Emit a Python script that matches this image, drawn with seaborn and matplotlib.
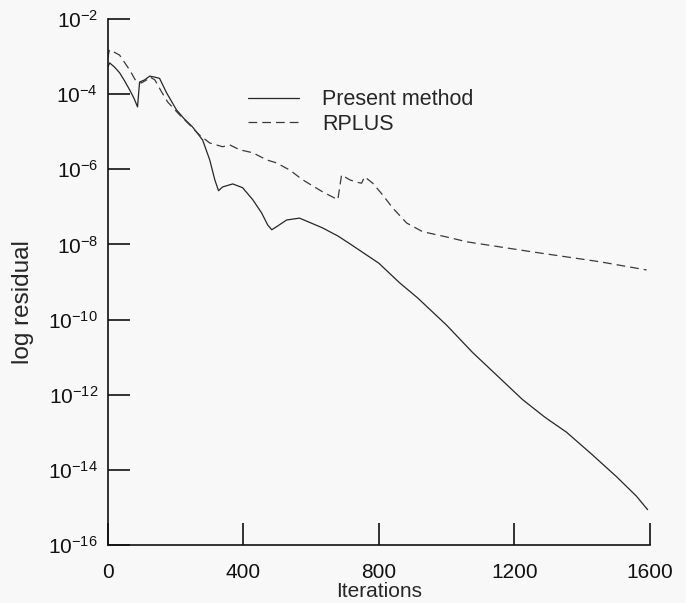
import numpy as np
import pandas as pd
import matplotlib
matplotlib.use('Agg')
import matplotlib.pyplot as plt
import seaborn as sns
from matplotlib.ticker import NullLocator, FixedLocator

# valores (log10 do residuo)
it_present = [0, 6, 20, 35, 50, 65, 78, 88, 94, 109, 124, 140, 153, 174, 203, 225, 250,
              280, 301, 316, 327, 339, 369, 398, 428, 454, 472, 484, 498, 528, 566, 634,
              680, 714, 800, 861, 914, 1000, 1077, 1150, 1224, 1290, 1354, 1430, 1501,
              1560, 1593]
log_present = [-3.28, -3.17, -3.28, -3.43, -3.65, -3.89, -4.12, -4.34, -3.68, -3.62, -3.52,
               -3.55, -3.58, -3.97, -4.42, -4.65, -4.87, -5.22, -5.75, -6.28, -6.57, -6.47,
               -6.39, -6.49, -6.81, -7.16, -7.48, -7.61, -7.53, -7.35, -7.30, -7.56, -7.78,
               -7.98, -8.50, -9.02, -9.42, -10.15, -10.88, -11.50, -12.13, -12.60, -13.00,
               -13.60, -14.18, -14.70, -15.06]

it_rplus = [0, 5, 12, 35, 65, 85, 100, 115, 124, 139, 159, 177, 212, 242, 271, 301, 339,
            360, 389, 428, 469, 498, 537, 575, 634, 679, 690, 714, 733, 749, 758, 782, 811,
            841, 882, 929, 1009, 1059, 1254, 1451, 1590]
log_rplus = [-3.05, -2.82, -2.85, -2.96, -3.36, -3.68, -3.70, -3.62, -3.54, -3.62, -3.94,
             -4.21, -4.55, -4.82, -5.09, -5.30, -5.40, -5.35, -5.48, -5.56, -5.75, -5.83,
             -6.02, -6.28, -6.60, -6.81, -6.15, -6.28, -6.34, -6.37, -6.20, -6.37, -6.68,
             -7.03, -7.43, -7.66, -7.82, -7.93, -8.20, -8.46, -8.68]

x_ticks = [0, 400, 800, 1200, 1600]
y_ticks = [1e-16, 1e-14, 1e-12, 1e-10, 1e-8, 1e-6, 1e-4, 1e-2]

df = pd.concat([
    pd.DataFrame({'it': it_present, 'res': 10.0 ** np.array(log_present), 'metodo': 'Present method'}),
    pd.DataFrame({'it': it_rplus, 'res': 10.0 ** np.array(log_rplus), 'metodo': 'RPLUS'}),
])

sns.set_style('ticks')
plt.rcParams['font.family'] = ['Liberation Sans', 'DejaVu Sans']
plt.rcParams['mathtext.default'] = 'regular'

fig = plt.figure(figsize=(6.86, 6.03), dpi=100, facecolor='#f8f8f8')
ax = fig.add_axes([0.157, 0.0962, 0.7905, 0.8723])
ax.set_facecolor('#f8f8f8')

sns.lineplot(data=df, x='it', y='res', hue='metodo', style='metodo',
             palette={'Present method': '#262626', 'RPLUS': '#3a3a3a'},
             dashes={'Present method': '', 'RPLUS': (7, 4)},
             linewidth=0.9, sort=False, estimator=None, ax=ax)

ax.set_yscale('log')
ax.set_xlim(0, 1600)
ax.set_ylim(1e-16, 1e-2)
ax.xaxis.set_major_locator(FixedLocator(x_ticks))
ax.yaxis.set_major_locator(FixedLocator(y_ticks))
ax.yaxis.set_minor_locator(NullLocator())
ax.tick_params(axis='both', direction='in', length=16, width=1.2, color='#111111',
               labelsize=15, labelcolor='#111111')
ax.tick_params(axis='x', pad=13)
ax.tick_params(axis='y', pad=7)
for s in ['top', 'right']:
    ax.spines[s].set_visible(False)
for s in ['left', 'bottom']:
    ax.spines[s].set_linewidth(1.2)
    ax.spines[s].set_color('#111111')

ax.set_xlabel('Iterations', fontsize=15, labelpad=0)
ax.set_ylabel('log residual', fontsize=17.5)
ax.yaxis.set_label_coords(-0.136, 0.462)

h, l = ax.get_legend_handles_labels()
ax.legend(h, l, loc='upper left', bbox_to_anchor=(0.258, 0.866), frameon=False,
          fontsize=15.5, handlelength=2.4, handletextpad=1.05, labelspacing=0.15,
          borderpad=0, borderaxespad=0)

plt.savefig('out.png', dpi=100, facecolor=fig.get_facecolor())
